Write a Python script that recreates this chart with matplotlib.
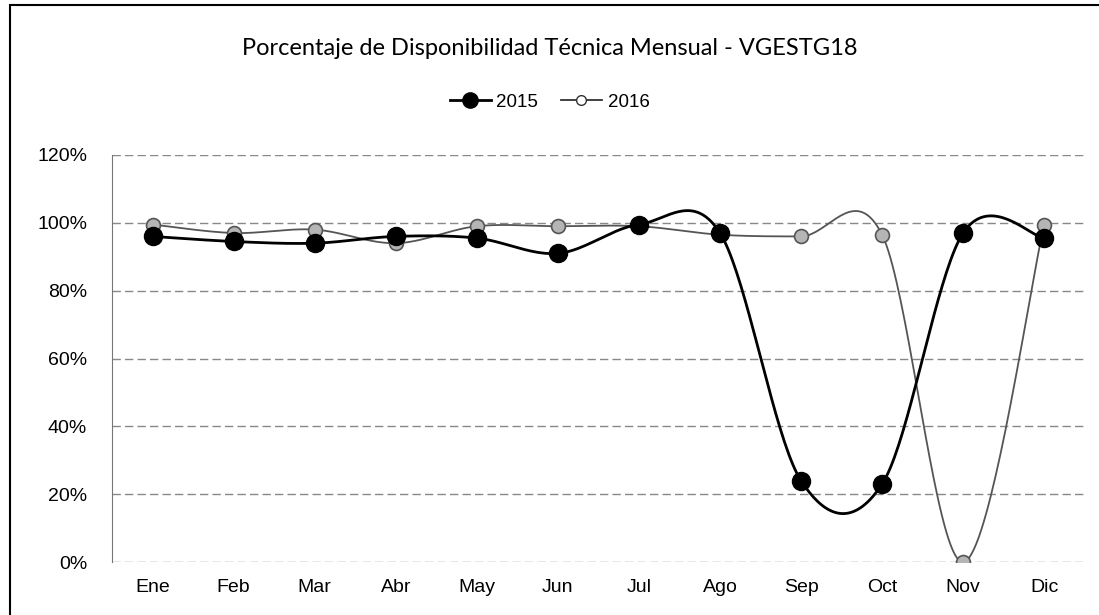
import numpy as np
import matplotlib
matplotlib.use("Agg")
import matplotlib.pyplot as plt
from matplotlib.patches import Rectangle
from matplotlib.ticker import PercentFormatter

months = ["Ene", "Feb", "Mar", "Abr", "May", "Jun", "Jul", "Ago", "Sep", "Oct", "Nov", "Dic"]
y2015 = [96, 94.5, 94, 96, 95.5, 91, 99.5, 97, 24, 23, 97, 95.5]
y2016 = [99.5, 97, 98, 94, 99, 99, 99, 96.5, 96, 96.5, 0, 99.5]
yticks = [0, 20, 40, 60, 80, 100, 120]
title = "Porcentaje de Disponibilidad Técnica Mensual - VGESTG18"

plt.rcParams["font.family"] = ["Liberation Sans", "DejaVu Sans"]


def smooth(xs, ys, n=40):
    xs = np.asarray(xs, float)
    ys = np.asarray(ys, float)
    P = np.column_stack([xs, ys])
    out = []
    for i in range(len(P) - 1):
        p0 = P[i - 1] if i > 0 else P[i]
        p1 = P[i]
        p2 = P[i + 1]
        p3 = P[i + 2] if i + 2 < len(P) else P[i + 1]
        c1 = p1 + (p2 - p0) / 6.0
        c2 = p2 - (p3 - p1) / 6.0
        t = np.linspace(0, 1, n)[:, None]
        seg = ((1 - t) ** 3) * p1 + 3 * ((1 - t) ** 2) * t * c1 + 3 * (1 - t) * t ** 2 * c2 + t ** 3 * p2
        out.append(seg if i == 0 else seg[1:])
    s = np.vstack(out)
    return s[:, 0], s[:, 1]


fig = plt.figure(figsize=(10.99, 6.15), dpi=100)
ax = fig.add_axes([0.102, 0.086, 0.885, 0.662])

x = np.arange(len(months))

sx, sy = smooth(x, y2015)
ax.plot(sx, sy, color="black", lw=2.0, zorder=3)
ax.plot(x, y2015, ls="none", marker="o", ms=13, mfc="black", mec="black", zorder=4)

sx2, sy2 = smooth(x, y2016)
ax.plot(sx2, sy2, color="#555555", lw=1.3, zorder=2)
ax.plot(x, y2016, ls="none", marker="o", ms=10, mfc="#b5b5b5", mec="#555555", mew=1.2, zorder=3)

# legend proxies
h1, = ax.plot([], [], color="black", lw=2.0, marker="o", ms=11, mfc="black", mec="black")
h2, = ax.plot([], [], color="#333333", lw=1.3, marker="o", ms=7, mfc="white", mec="#333333")
fig.legend([h1, h2], ["2015", "2016"], loc="center", bbox_to_anchor=(0.5, 0.834), ncol=2,
           frameon=False, fontsize=13.5, handlelength=2.2, columnspacing=1.2, handletextpad=0.3)

ax.set_xlim(-0.5, len(months) - 0.5)
ax.set_ylim(0, 120)
ax.set_yticks(yticks)
ax.yaxis.set_major_formatter(PercentFormatter(decimals=0))
ax.set_xticks(x)
ax.set_xticklabels(months)
ax.tick_params(axis="both", length=0, labelsize=14, colors="black")
ax.tick_params(axis="y", pad=18)
ax.tick_params(axis="x", pad=12)
for sp in ["top", "right", "bottom"]:
    ax.spines[sp].set_visible(False)
ax.spines["left"].set_color("#777777")
ax.grid(axis="y", color="#888888", lw=1.0, ls=(0, (6, 3)))
ax.set_axisbelow(True)

fig.text(0.5, 0.921, title, ha="center", va="center", fontsize=17,
         family=["Lato", "DejaVu Sans"])

fig.patches.append(Rectangle((0.009, -0.01), 1.2, 1.002, transform=fig.transFigure,
                             fill=False, edgecolor="black", lw=1.5))

fig.savefig("out.png", dpi=100)
